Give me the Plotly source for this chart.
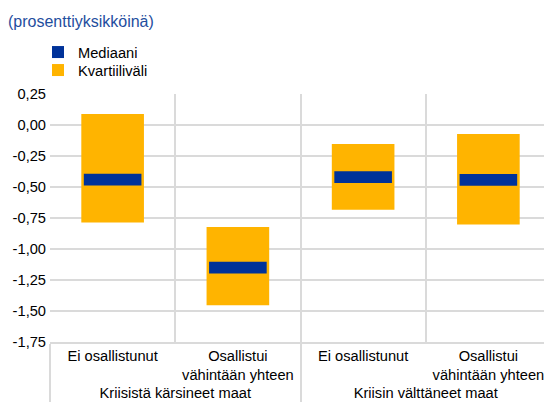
import plotly.graph_objects as go

groups = ["Kriisistä kärsineet maat", "Kriisistä kärsineet maat",
          "Kriisin välttäneet maat", "Kriisin välttäneet maat"]
categories = ["Ei osallistunut", "Osallistui<br>vähintään yhteen",
              "Ei osallistunut", "Osallistui<br>vähintään yhteen"]
q1 = [-0.787, -1.454, -0.683, -0.803]
q3 = [0.088, -0.822, -0.153, -0.072]
median = [-0.44, -1.15, -0.42, -0.443]
y_ticks = [0.25, 0.0, -0.25, -0.5, -0.75, -1.0, -1.25, -1.5, -1.75]

BAND = 0.094
ORANGE = "#FFB400"
BLUE = "#003299"
FONT = "Liberation Sans, Arial, sans-serif"
FS = 14.67

x = [groups, categories]

fig = go.Figure()
fig.add_trace(go.Bar(
    x=x, y=[b - a for a, b in zip(q1, q3)], base=q1,
    width=0.5, marker=dict(color=ORANGE, line=dict(width=0)),
    name="Kvartiiliväli", legend="legend2",
))
fig.add_trace(go.Bar(
    x=x, y=[BAND] * len(median), base=[m - BAND / 2 for m in median],
    width=0.46, marker=dict(color=BLUE, line=dict(width=0)),
    name="Mediaani", legend="legend",
))

# page body has an 8px margin, so the figure is drawn 8px smaller
W, H = 544, 411
L, R, T, B = 42, 1, 86, 77
PW = W - L - R
leg_common = dict(x=(30 - L) / PW, xref="paper", yref="container",
                  xanchor="left", yanchor="top", orientation="v",
                  font=dict(size=FS), itemwidth=30,
                  bgcolor="rgba(0,0,0,0)")
fig.update_layout(
    width=W, height=H,
    margin=dict(l=L, r=R, t=T, b=B, autoexpand=False),
    paper_bgcolor="white", plot_bgcolor="white",
    barmode="overlay",
    font=dict(family=FONT, size=FS, color="#000000"),
    showlegend=True,
    legend=dict(y=1 - 28 / H, **leg_common),
    legend2=dict(y=1 - 46 / H, **leg_common),
    title=dict(text="(prosenttiyksikköinä)", x=0, xref="container",
               xanchor="left", y=1, yref="container", yanchor="top",
               pad=dict(l=0, t=8),
               font=dict(family=FONT, size=16, color="#1F4E9E")),
)

fig.update_yaxes(
    range=[-1.75, 0.25],
    tickvals=y_ticks,
    ticktext=[f"{v:.2f}".replace(".", ",") for v in y_ticks],
    showgrid=True, gridcolor="#DADADA", gridwidth=1.5,
    zeroline=False, showline=False, ticks="", ticklen=0,
    ticklabelstandoff=3, automargin=False,
    tickfont=dict(size=FS),
)
fig.update_xaxes(
    type="multicategory",
    showgrid=True, gridcolor="#DADADA", gridwidth=1.5,
    showline=True, linecolor="#DADADA", linewidth=1.5,
    showdividers=True, dividercolor="#DADADA", dividerwidth=1.5,
    ticks="", tickangle=0, automargin=False,
    tickfont=dict(size=FS),
)

fig.write_html("out.html")
